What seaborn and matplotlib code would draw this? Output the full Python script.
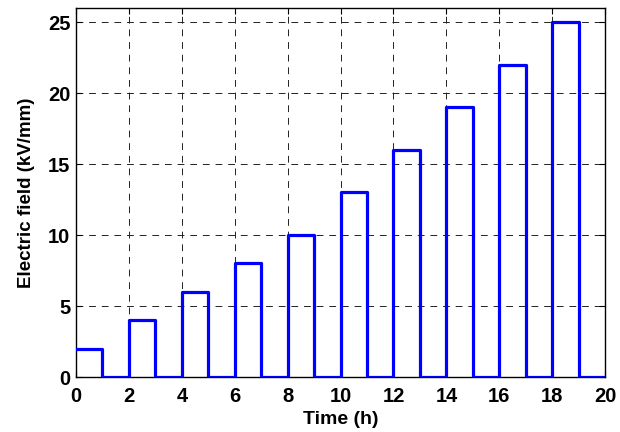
import matplotlib
matplotlib.use("Agg")
import matplotlib.pyplot as plt
import seaborn as sns
import pandas as pd

# Field applied during each odd hour-long step (kV/mm), switched off in between
time_h = [0, 1, 2, 3, 4, 5, 6, 7, 8, 9, 10, 11, 12, 13, 14, 15, 16, 17, 18, 19, 20]
field_kv_mm = [2, 0, 4, 0, 6, 0, 8, 0, 10, 0, 13, 0, 16, 0, 19, 0, 22, 0, 25, 0, 0]
x_ticks = [0, 2, 4, 6, 8, 10, 12, 14, 16, 18, 20]
y_ticks = [0, 5, 10, 15, 20, 25]

df = pd.DataFrame({"Time (h)": time_h, "Electric field (kV/mm)": field_kv_mm})

sns.set_theme(style="white")
plt.rcParams["font.family"] = ["Liberation Sans", "DejaVu Sans"]
plt.rcParams["text.color"] = "black"
plt.rcParams["axes.labelcolor"] = "black"

fig = plt.figure(figsize=(6.2, 4.32), dpi=100)
ax = fig.add_axes([0.1226, 0.1273, 0.8534, 0.8542])

sns.lineplot(data=df, x="Time (h)", y="Electric field (kV/mm)", ax=ax,
             drawstyle="steps-post", color="#0000ff", linewidth=2.3,
             estimator=None, zorder=3)

ax.set_xlim(0, 20)
ax.set_ylim(0, 26)
ax.set_xticks(x_ticks)
ax.set_yticks(y_ticks)
ax.set_xticklabels([str(t) for t in x_ticks], fontsize=14.5, fontweight="bold")
ax.set_yticklabels([str(t) for t in y_ticks], fontsize=14.5, fontweight="bold")
ax.grid(True, color="#222222", linestyle=(0, (7, 6)), linewidth=0.7)
ax.tick_params(axis="x", pad=7)
ax.tick_params(axis="y", pad=4)
ax.tick_params(direction="in", length=4, width=0.8, top=True, right=True,
               bottom=True, left=True, colors="black")
for s in ax.spines.values():
    s.set_color("black")
    s.set_linewidth(1.0)

ax.set_xlabel("Time (h)", fontsize=14, fontweight="bold", labelpad=4)
ax.set_ylabel("Electric field (kV/mm)", fontsize=13.5, fontweight="bold", labelpad=9)

fig.savefig("out.png", dpi=100)
